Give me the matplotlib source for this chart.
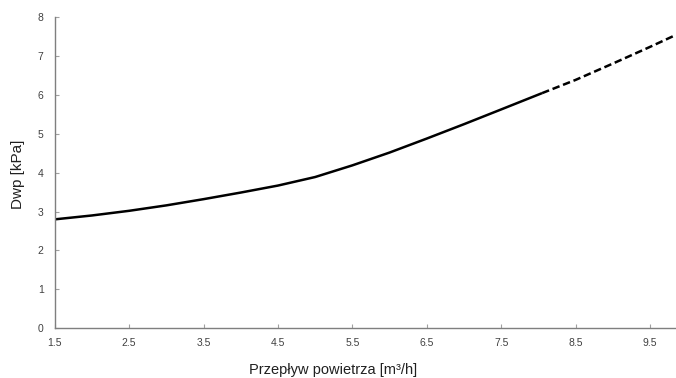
import numpy as np
import matplotlib.pyplot as plt

flow_solid = [1.5, 2.0, 2.5, 3.0, 3.5, 4.0, 4.5, 5.0, 5.5, 6.0, 6.5, 7.0, 7.5, 8.05]
dwp_solid = [2.80, 2.90, 3.02, 3.16, 3.32, 3.49, 3.67, 3.89, 4.19, 4.52, 4.88, 5.25, 5.63, 6.05]
flow_dash = [8.05, 8.5, 9.0, 9.5, 9.85]
dwp_dash = [6.05, 6.39, 6.81, 7.24, 7.55]

xticks = [1.5, 2.5, 3.5, 4.5, 5.5, 6.5, 7.5, 8.5, 9.5]
yticks = [0, 1, 2, 3, 4, 5, 6, 7, 8]

plt.rcParams['font.family'] = ['Liberation Sans', 'DejaVu Sans']

fig = plt.figure(figsize=(6.76, 3.78), dpi=100)
ax = fig.add_axes([0.081, 0.132, 0.919, 0.822])

ax.plot(flow_solid, dwp_solid, color='black', lw=1.8, solid_capstyle='butt',
        solid_joinstyle='round')
ax.plot(flow_dash, dwp_dash, color='black', lw=1.8, ls=(0, (3, 1.5)))

ax.set_xlim(1.5, 9.85)
ax.set_ylim(0, 8)
ax.set_xticks(xticks)
ax.set_xticklabels([str(t) for t in xticks])
ax.set_yticks(yticks)

for s in ['top', 'right']:
    ax.spines[s].set_visible(False)
for s in ['left', 'bottom']:
    ax.spines[s].set_color('#7f7f7f')
    ax.spines[s].set_linewidth(1)
ax.tick_params(direction='in', length=3, color='#a0a0a0', labelsize=7.5,
               labelcolor='#404040')
ax.tick_params(axis='x', pad=7)
ax.tick_params(axis='y', pad=8)

fig.text(0.027, 0.54, 'Dwp [kPa]', rotation=90, ha='center', va='center',
         fontsize=11, color='#202020')
fig.text(0.493, 0.022, 'Przepływ powietrza [m³/h]', ha='center', va='center',
         fontsize=10.5, color='#202020')

fig.savefig('out.png', dpi=100)
